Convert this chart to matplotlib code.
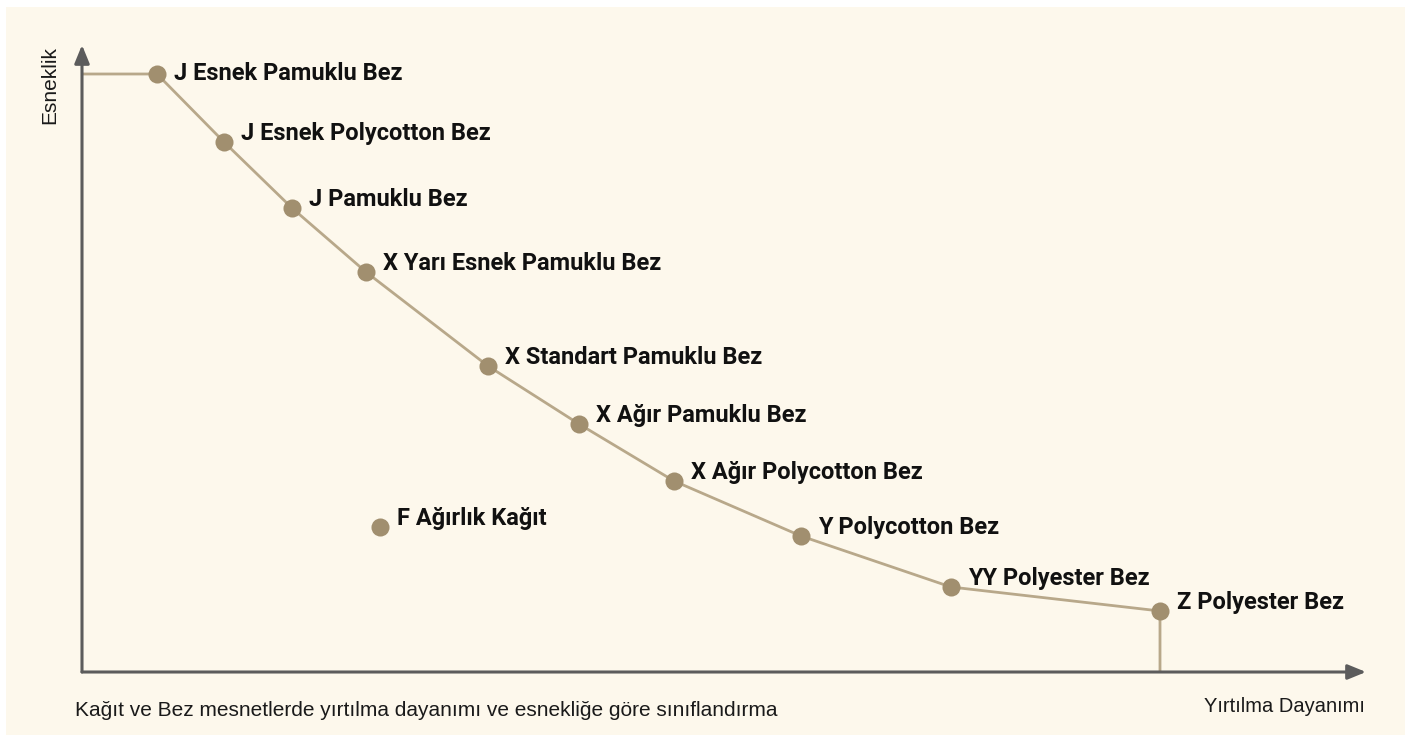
import matplotlib.pyplot as plt
from matplotlib.patches import Rectangle

# Kumaş / kağıt sınıfları: yırtılma dayanımı (x) ve esneklik (y), keyfi birim
bez_siniflari = ['J Esnek Pamuklu Bez', 'J Esnek Polycotton Bez', 'J Pamuklu Bez',
                 'X Yarı Esnek Pamuklu Bez', 'X Standart Pamuklu Bez',
                 'X Ağır Pamuklu Bez', 'X Ağır Polycotton Bez', 'Y Polycotton Bez',
                 'YY Polyester Bez', 'Z Polyester Bez']
bez_dayanim = [7.5, 14.2, 21.0, 28.4, 40.6, 49.7, 59.2, 71.9, 86.9, 107.8]
bez_esneklik = [59.8, 53.0, 46.4, 40.0, 30.6, 24.8, 19.1, 13.6, 8.5, 6.1]

kagit_siniflari = ['F Ağırlık Kağıt']
kagit_dayanim = [29.8]
kagit_esneklik = [14.5]

x_max = 128.4
y_max = 62.7

W, H = 1421, 735
fig = plt.figure(figsize=(W / 100, H / 100), dpi=100, facecolor='white')
fig.patches.append(Rectangle((6 / W, 0), (1405 - 6) / W, (735 - 7) / H,
                             transform=fig.transFigure, facecolor='#fdf8ec',
                             edgecolor='none', zorder=-5))

ax = fig.add_axes([82 / W, (H - 672) / H, (1366 - 82) / W, (672 - 45) / H])
ax.set_xlim(0, x_max)
ax.set_ylim(0, y_max)
ax.set_facecolor('none')
for s in ax.spines.values():
    s.set_visible(False)
ax.set_xticks([])
ax.set_yticks([])

eksen = '#5c5c5c'
cizgi = '#b8a88a'
nokta = '#a18f6f'

# eksenler ve oklar
ok = dict(arrowstyle='-|>,head_length=1.1,head_width=0.45',
          color=eksen, lw=2.2, shrinkA=0, shrinkB=0)
ax.annotate('', xy=(1, 0), xytext=(0, 0), xycoords='axes fraction',
            arrowprops=ok, annotation_clip=False)
ax.annotate('', xy=(0, 1), xytext=(0, 0), xycoords='axes fraction',
            arrowprops=ok, annotation_clip=False)

# eğri: y ekseninden başlayıp x eksenine inen
xs = [0] + bez_dayanim + [bez_dayanim[-1]]
ys = [bez_esneklik[0]] + bez_esneklik + [0]
ax.plot(xs, ys, color=cizgi, lw=2, solid_capstyle='butt', solid_joinstyle='round',
        zorder=2, clip_on=False)

ax.plot(bez_dayanim, bez_esneklik, 'o', ms=13, color=nokta, mec='none', zorder=3,
        clip_on=False)
ax.plot(kagit_dayanim, kagit_esneklik, 'o', ms=13, color=nokta, mec='none', zorder=3,
        clip_on=False)

etiket_font = ['Roboto', 'DejaVu Sans']
for ad, x, y in zip(bez_siniflari + kagit_siniflari,
                    bez_dayanim + kagit_dayanim,
                    bez_esneklik + kagit_esneklik):
    dy = 0 if ad == bez_siniflari[0] else 6
    ax.annotate(ad, (x, y), xytext=(12, dy), textcoords='offset points',
                ha='left', va='center', fontsize=17, fontweight='bold',
                family=etiket_font, color='#111111', annotation_clip=False)

normal_font = ['Liberation Sans', 'DejaVu Sans']
fig.text(50 / W, 1 - 85 / H, 'Esneklik', rotation=90, ha='center', va='center',
         fontsize=15, family=normal_font, color='#1a1a1a')
fig.text(1365 / W, 1 - 706 / H, 'Yırtılma Dayanımı', ha='right', va='center',
         fontsize=14.5, family=normal_font, color='#1a1a1a')
fig.text(75 / W, 1 - 711 / H,
         'Kağıt ve Bez mesnetlerde yırtılma dayanımı ve esnekliğe göre sınıflandırma',
         ha='left', va='center', fontsize=15, family=normal_font, color='#1a1a1a')

fig.savefig('out.png', dpi=100, facecolor='white')
